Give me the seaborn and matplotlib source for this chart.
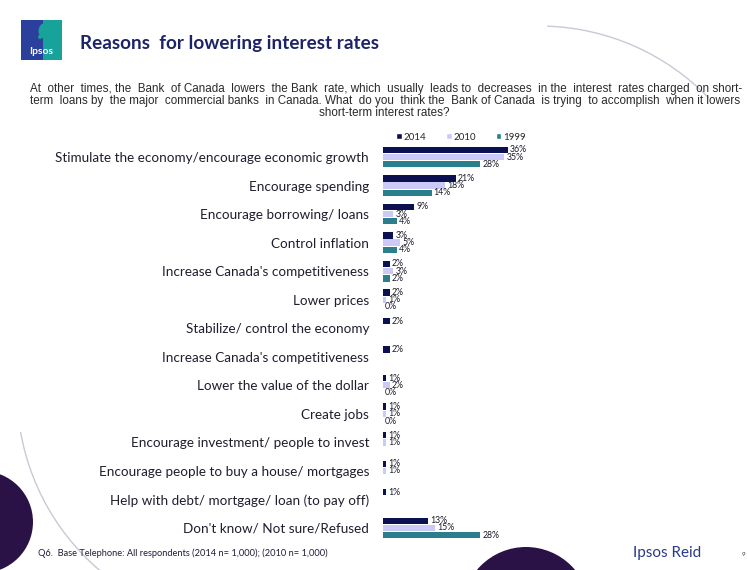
import numpy as np
import pandas as pd
import matplotlib
matplotlib.use("Agg")
import matplotlib.pyplot as plt
from matplotlib.patches import Circle, Rectangle, Ellipse, Arc, Patch
import seaborn as sns

# ---- data -------------------------------------------------------------
categories = [
    "Stimulate the economy/encourage economic growth",
    "Encourage spending",
    "Encourage borrowing/ loans",
    "Control inflation",
    "Increase Canada's competitiveness",
    "Lower prices",
    "Stabilize/ control the economy",
    "Increase Canada's competitiveness",
    "Lower the value of the dollar",
    "Create jobs",
    "Encourage investment/ people to invest",
    "Encourage people to buy a house/ mortgages",
    "Help with debt/ mortgage/ loan (to pay off)",
    "Don't know/ Not sure/Refused",
]
years = ["2014", "2010", "1999"]
pct_2014 = [36, 21, 9, 3, 2, 2, 2, 2, 1, 1, 1, 1, 1, 13]
pct_2010 = [35, 18, 3, 5, 3, 1, np.nan, np.nan, 2, 1, 1, 1, np.nan, 15]
pct_1999 = [28, 14, 4, 4, 2, 0, np.nan, np.nan, 0, 0, np.nan, np.nan, np.nan, 28]
colors = ["#0b1150", "#cbcaf6", "#2b7e8b"]

title = "Reasons  for lowering interest rates"
question_lines = [
    "At other times, the Bank of Canada lowers the Bank rate, which usually leads to decreases in the interest rates charged on short-",
    "term loans by the major commercial banks in Canada. What do you think the Bank of Canada is trying to accomplish when it lowers",
    "short-term interest rates?",
]
footnote = "Q6.  Base Telephone: All respondents (2014 n= 1,000); (2010 n= 1,000)"

rows = []
for i, cat in enumerate(categories):
    for yr, vals in zip(years, [pct_2014, pct_2010, pct_1999]):
        rows.append({"row": i, "year": yr, "pct": vals[i]})
df = pd.DataFrame(rows)

# ---- figure -----------------------------------------------------------
sns.set_theme(style="white")
plt.rcParams["font.family"] = ["Lato", "DejaVu Sans"]
W, H = 748, 570
fig = plt.figure(figsize=(W / 100, H / 100), dpi=100)

# background layer in pixel coordinates for page decorations
bg = fig.add_axes([0, 0, 1, 1], zorder=0)
bg.set_xlim(0, W)
bg.set_ylim(H, 0)
bg.axis("off")

purple = "#2a1247"
bg.add_patch(Circle((-18, 522), 51, color=purple, lw=0))
bg.add_patch(Circle((526, 611), 64, color=purple, lw=0))
bg.add_patch(Arc((539, 262), 472, 472, theta1=272, theta2=316,
                 color="#c9c9d6", lw=1.0))
bg.add_patch(Arc((253, 391), 472, 472, theta1=125, theta2=170,
                 color="#c9c9d6", lw=1.0))

# logo
bg.add_patch(Rectangle((21, 20), 41, 40, color="#2b3f9c", lw=0))
bg.add_patch(Rectangle((43, 20), 19, 40, color="#17a39a", lw=0))
bg.add_patch(Ellipse((45, 31), 13, 16, color="#17a39a", lw=0))
bg.add_patch(Ellipse((40, 37), 4, 4, color="#17a39a", lw=0))
bg.text(41.5, 52, "Ipsos", color="white", fontsize=7.5, fontweight="bold",
        ha="center", va="center")

bg.text(80, 43, title, color="#1d2466", fontsize=13.6, fontweight="bold",
        ha="left", va="center")

# question text, justified by spreading extra spaces between words
renderer = fig.canvas.get_renderer()
qkw = dict(fontsize=8.4, color="#2a2a2a",
           family=["Liberation Sans Narrow", "Liberation Sans", "DejaVu Sans"])
x0, x1 = 30, 741


def text_width(s):
    t = bg.text(0, 0, s, **qkw)
    w = t.get_window_extent(renderer).width
    t.remove()
    return w


space_w = (text_width("a a") - text_width("aa"))
for li, (line, y) in enumerate(zip(question_lines, [89, 101, 113])):
    if li < 2:
        words = line.split(" ")
        extra = (x1 - x0) - text_width(line)
        n_gaps = len(words) - 1
        n_extra = max(int(round(extra / space_w)), 0)
        base, rem = divmod(n_extra, n_gaps)
        step = n_gaps / rem if rem else 0
        picks = {int(k * step) for k in range(rem)}
        out = words[0]
        for gi, w in enumerate(words[1:]):
            out += " " * (1 + base + (1 if gi in picks else 0)) + w
        bg.text(x0, y, out, ha="left", va="center", **qkw)
    else:
        bg.text(384, y, line, ha="center", va="center", **qkw)

bg.text(38, 553, footnote, fontsize=6.7, color="#1d1d3a", ha="left", va="center")
bg.text(667, 553, "Ipsos Reid", fontsize=11, color="#283a8c", ha="center",
        va="center")
bg.text(743, 555, "9", fontsize=4.5, color="#333333", ha="center", va="center")

# ---- bar chart --------------------------------------------------------
top_px, bot_px = 142.75, 542.25
left_px, right_px = 383, 700
ax = fig.add_axes([left_px / W, 1 - bot_px / H, (right_px - left_px) / W,
                   (bot_px - top_px) / H], zorder=2)
ax.patch.set_alpha(0)

sns.barplot(data=df, y="row", x="pct", hue="year", hue_order=years,
            palette=colors, orient="h", width=0.76, gap=0.12, ax=ax,
            legend=False, saturation=1, edgecolor="none")
ax.set_xlim(0, (right_px - left_px) / 3.47)
ax.set_ylim(len(categories) - 0.5, -0.5)
ax.set_yticks(range(len(categories)))
ax.set_yticklabels(categories, fontsize=9.7, color="#1e1e2e")
ax.tick_params(axis="y", length=0, pad=10)
ax.set_xticks([])
ax.set_xlabel("")
ax.set_ylabel("")
for s in ax.spines.values():
    s.set_visible(False)

for cont in ax.containers:
    ax.bar_label(cont, fmt="{:.0f}%", padding=1.5, fontsize=6.3,
                 color="#1a1a2a")

handles = [Patch(facecolor=c, label=y) for c, y in zip(colors, years)]
fig.legend(handles=handles, loc="center", bbox_to_anchor=(461 / W, 1 - 137 / H),
           ncol=3, frameon=False, fontsize=7, handlelength=0.6,
           handleheight=0.6, handletextpad=0.2, columnspacing=2.0,
           borderpad=0)

fig.savefig("out.png", dpi=100)
